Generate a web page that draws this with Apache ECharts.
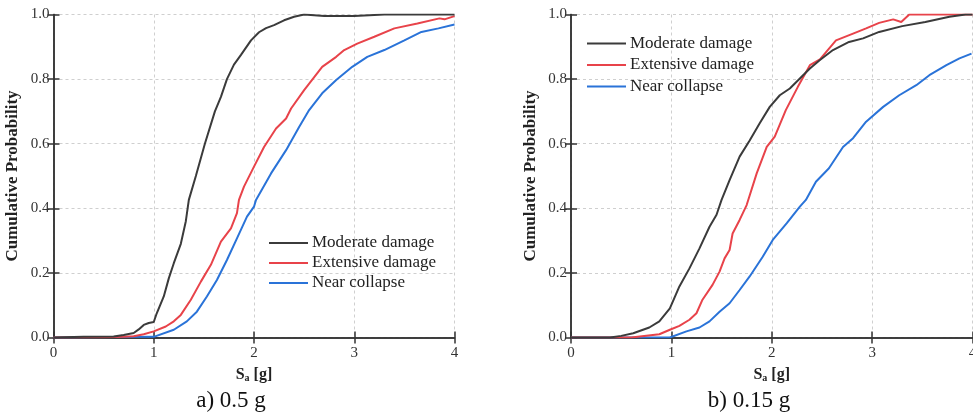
<!DOCTYPE html>
<html>
<head>
  <meta charset="UTF-8" />
  <title>Fragility curves</title>
  <script src="https://cdn.jsdelivr.net/npm/echarts@6/dist/echarts.min.js"></script>
  <style>
    html, body { margin: 0; height: 100%; background: #fff; }
    #main { width: 973px; height: 415px; }
  </style>
</head>
<body>
  <div id="main"></div>
  <script>
    // a) 0.5 g
    const modA_x = [0, 0.3, 0.6, 0.7, 0.8, 0.85, 0.9, 0.95, 1.0, 1.03, 1.1, 1.15, 1.2, 1.27, 1.32, 1.35, 1.42, 1.51, 1.61, 1.67, 1.73, 1.8, 1.87, 1.97, 2.05, 2.12, 2.2, 2.3, 2.4, 2.5, 2.7, 3.0, 3.3, 4.0];
    const modA_p = [0, 0.002, 0.003, 0.008, 0.014, 0.025, 0.039, 0.045, 0.048, 0.075, 0.127, 0.183, 0.23, 0.29, 0.36, 0.426, 0.5, 0.6, 0.7, 0.745, 0.8, 0.845, 0.875, 0.92, 0.945, 0.958, 0.967, 0.982, 0.993, 1.0, 0.995, 0.995, 1.0, 1.0];
    const extA_x = [0, 0.5, 0.7, 0.8, 0.9, 1.0, 1.12, 1.2, 1.27, 1.37, 1.47, 1.57, 1.67, 1.77, 1.83, 1.85, 1.9, 2.0, 2.1, 2.22, 2.32, 2.37, 2.5, 2.68, 2.82, 2.9, 3.03, 3.2, 3.4, 3.63, 3.85, 3.9, 4.0];
    const extA_p = [0, 0.001, 0.002, 0.004, 0.01, 0.019, 0.034, 0.05, 0.07, 0.117, 0.173, 0.225, 0.297, 0.338, 0.385, 0.426, 0.467, 0.529, 0.59, 0.647, 0.678, 0.709, 0.766, 0.838, 0.869, 0.89, 0.91, 0.931, 0.957, 0.972, 0.988, 0.985, 0.995];
    const ncA_x = [0, 1.0, 1.2, 1.33, 1.43, 1.53, 1.63, 1.73, 1.83, 1.93, 2.0, 2.02, 2.17, 2.32, 2.45, 2.55, 2.68, 2.82, 2.98, 3.13, 3.3, 3.5, 3.67, 3.84, 4.0];
    const ncA_p = [0, 0.002, 0.024, 0.05, 0.08, 0.127, 0.178, 0.24, 0.307, 0.374, 0.405, 0.426, 0.508, 0.58, 0.652, 0.704, 0.756, 0.797, 0.838, 0.869, 0.89, 0.92, 0.946, 0.957, 0.969];

    // b) 0.15 g
    const modB_x = [0, 0.39, 0.5, 0.62, 0.78, 0.88, 0.985, 1.08, 1.18, 1.28, 1.38, 1.45, 1.5, 1.58, 1.68, 1.78, 1.88, 1.98, 2.08, 2.18, 2.28, 2.38, 2.48, 2.61, 2.77, 2.91, 3.07, 3.3, 3.53, 3.77, 3.93, 4.0];
    const modB_p = [0, 0, 0.005, 0.013, 0.031, 0.05, 0.09, 0.158, 0.214, 0.276, 0.343, 0.38, 0.426, 0.487, 0.56, 0.61, 0.663, 0.714, 0.75, 0.771, 0.802, 0.833, 0.859, 0.89, 0.915, 0.926, 0.946, 0.964, 0.977, 0.993, 1.0, 1.0];
    const extB_x = [0, 0.6, 0.88, 0.985, 1.08, 1.18, 1.25, 1.31, 1.41, 1.48, 1.53, 1.58, 1.61, 1.68, 1.75, 1.85, 1.95, 2.03, 2.14, 2.26, 2.38, 2.48, 2.64, 2.81, 2.94, 3.07, 3.21, 3.29, 3.37, 4.0];
    const extB_p = [0, 0, 0.01, 0.024, 0.036, 0.055, 0.075, 0.117, 0.163, 0.204, 0.245, 0.271, 0.322, 0.364, 0.41, 0.508, 0.59, 0.622, 0.704, 0.776, 0.843, 0.861, 0.92, 0.941, 0.957, 0.974, 0.985, 0.977, 1.0, 1.0];
    const ncB_x = [0, 0.985, 1.15, 1.28, 1.38, 1.48, 1.58, 1.68, 1.78, 1.91, 2.01, 2.15, 2.28, 2.34, 2.44, 2.57, 2.71, 2.81, 2.94, 3.11, 3.27, 3.44, 3.57, 3.74, 3.87, 3.99];
    const ncB_p = [0, 0, 0.019, 0.031, 0.05, 0.08, 0.106, 0.147, 0.189, 0.25, 0.302, 0.354, 0.405, 0.426, 0.482, 0.524, 0.59, 0.617, 0.668, 0.714, 0.75, 0.781, 0.812, 0.843, 0.864, 0.879];

    const names = ['Moderate damage', 'Extensive damage', 'Near collapse'];
    const colors = ['#3b3b3b', '#e8434a', '#2a73d8'];
    const captions = ['a) 0.5 g', 'b) 0.15 g'];

    const font = 'Liberation Serif';
    const axisColor = '#333';

    const zip = (xs, ys) => xs.map((x, i) => [x, ys[i]]);
    const panels = [
      [zip(modA_x, modA_p), zip(extA_x, extA_p), zip(ncA_x, ncA_p)],
      [zip(modB_x, modB_p), zip(extB_x, extB_p), zip(ncB_x, ncB_p)]
    ];

    const chart = echarts.init(document.getElementById('main'));

    const grids = [
      { left: 53.5, top: 14.5, width: 401, height: 323, containLabel: false, outerBoundsMode: 'none' },
      { left: 571, top: 14.5, width: 401.5, height: 323, containLabel: false, outerBoundsMode: 'none' }
    ];

    const xAxes = [], yAxes = [], series = [];
    grids.forEach((g, gi) => {
      // bottom axis with labels
      xAxes.push({
        gridIndex: gi, type: 'value', min: 0, max: 4, interval: 1,
        name: '{s|S}{sub|a}{s| [g]}', nameLocation: 'middle', nameGap: 28,
        nameTextStyle: {
          rich: {
            s: { fontFamily: font, fontWeight: 'bold', fontSize: 16, color: '#222' },
            sub: { fontFamily: font, fontWeight: 'bold', fontSize: 10, color: '#222', padding: [8, 0, 0, 0] }
          }
        },
        axisLine: { lineStyle: { color: axisColor, width: 1.5 } },
        axisTick: { inside: true, length: 6, lineStyle: { color: axisColor, width: 1.5 } },
        axisLabel: { fontFamily: font, fontSize: 15, color: '#333', margin: 8 },
        splitLine: { show: true, lineStyle: { color: '#cfcfcf', type: [3, 3], width: 1 } }
      });
      // top mirror axis
      xAxes.push({
        gridIndex: gi, type: 'value', min: 0, max: 4, interval: 1, position: 'top',
        axisLine: { lineStyle: { color: axisColor, width: 1.5 } },
        axisTick: { inside: true, length: 6, lineStyle: { color: axisColor, width: 1.5 } },
        axisLabel: { show: false }, splitLine: { show: false }
      });
      yAxes.push({
        gridIndex: gi, type: 'value', min: 0, max: 1, interval: 0.2,
        name: 'Cumulative Probability', nameLocation: 'middle', nameGap: 32,
        nameTextStyle: { fontFamily: font, fontWeight: 'bold', fontSize: 17, color: '#222' },
        axisLine: { show: true, lineStyle: { color: axisColor, width: 1.5 } },
        axisTick: { show: true, inside: true, length: 6, lineStyle: { color: axisColor, width: 1.5 } },
        axisLabel: { fontFamily: font, fontSize: 15, color: '#333', margin: 4, formatter: v => v.toFixed(1) },
        splitLine: { show: true, lineStyle: { color: '#cfcfcf', type: [3, 3], width: 1 } }
      });
      yAxes.push({
        gridIndex: gi, type: 'value', min: 0, max: 1, interval: 0.2, position: 'right',
        axisLine: { show: true, lineStyle: { color: axisColor, width: 1.5 } },
        axisTick: { show: true, inside: true, length: 6, lineStyle: { color: axisColor, width: 1.5 } },
        axisLabel: { show: false }, splitLine: { show: false }
      });
      panels[gi].forEach((data, si) => {
        series.push({
          name: names[si], type: 'line',
          xAxisIndex: gi * 2, yAxisIndex: gi * 2,
          data: data, showSymbol: false, symbol: 'none',
          lineStyle: { color: colors[si], width: 2 },
          itemStyle: { color: colors[si] },
          z: 3 - si + 2
        });
      });
    });

    const legendBase = {
      orient: 'vertical', icon: 'rect', itemWidth: 39, itemHeight: 2, itemGap: 3, padding: 0,
      textStyle: { fontFamily: font, fontSize: 17, color: '#222', lineHeight: 17, padding: [0, 0, 0, -1] },
      data: names, selectedMode: false
    };

    chart.setOption({
      backgroundColor: '#fff',
      animation: false,
      grid: grids,
      xAxis: xAxes,
      yAxis: yAxes,
      legend: [
        Object.assign({}, legendBase, { left: 269, top: 234.5 }),
        Object.assign({}, legendBase, { left: 587, top: 35, itemGap: 4.5 })
      ],
      graphic: captions.map((c, i) => ({
        type: 'text', x: i === 0 ? 231 : 749, y: 401,
        style: { text: c, fontFamily: font, fontSize: 23, fill: '#111', textAlign: 'center', textVerticalAlign: 'middle' }
      })),
      series: series
    });
  </script>
</body>
</html>
